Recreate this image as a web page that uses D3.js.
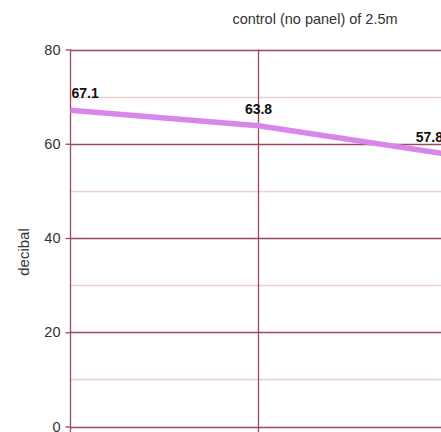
<!DOCTYPE html>
<html><head><meta charset="utf-8">
<script src="https://cdn.jsdelivr.net/npm/d3@7"></script>
<style>html,body{margin:0;padding:0;background:#fff;overflow:hidden}</style>
</head><body>
<svg id="chart" width="441" height="432"></svg>
<script>
const categories = ["A", "B", "C"];
const values = [67.1, 63.8, 57.8];
const yTicks = [0, 20, 40, 60, 80];
const yMinorTicks = [10, 30, 50, 70];
const title = "control (no panel) of 2.5m";
const yLabel = "decibal";

const svg = d3.select("#chart");
const W = 441, H = 432;
const x0 = 70.5, step = 188;
const x = d3.scalePoint().domain(categories).range([x0, x0 + step * (categories.length - 1)]);
const y = d3.scaleLinear().domain([0, 80]).range([426.5, 49.5]);

const major = "#9b4a5e", minor = "#ead0d8";
const font = "Liberation Sans, Arial, sans-serif";

// minor grid
svg.append("g").selectAll("line").data(yMinorTicks).join("line")
  .attr("x1", x0).attr("x2", W + 10)
  .attr("y1", d => Math.round(y(d)) + 0.5).attr("y2", d => Math.round(y(d)) + 0.5)
  .attr("stroke", minor).attr("stroke-width", 1.5);

// major grid
svg.append("g").selectAll("line").data(yTicks).join("line")
  .attr("x1", x0).attr("x2", W + 10)
  .attr("y1", d => Math.round(y(d)) + 0.5).attr("y2", d => Math.round(y(d)) + 0.5)
  .attr("stroke", major).attr("stroke-width", 1.3);

// vertical grid
svg.append("g").selectAll("line").data(categories).join("line")
  .attr("x1", d => x(d)).attr("x2", d => x(d))
  .attr("y1", y(80)).attr("y2", H + 5)
  .attr("stroke", major).attr("stroke-width", 1.3);

// y axis
const yAxis = d3.axisLeft(y).tickValues(yTicks).tickSize(5).tickPadding(5);
const ga = svg.append("g").attr("transform", `translate(${x0},0)`).call(yAxis);
ga.select(".domain").remove();
ga.selectAll(".tick line").attr("stroke", major).attr("stroke-width", 1.3);
ga.selectAll(".tick text").attr("fill", "#333").style("font-family", font).style("font-size", "14.5px");

// line
const line = d3.line().x((d, i) => x(categories[i])).y(d => y(d));
svg.append("path").datum(values).attr("d", line)
  .attr("fill", "none").attr("stroke", "#d986ea").attr("stroke-width", 5.5)
  .attr("stroke-linejoin", "round");

// data labels
const lbl = svg.append("g").selectAll("text").data(values).join("text")
  .attr("y", d => y(d) - 12)
  .attr("text-anchor", "middle")
  .style("font-family", font).style("font-size", "14px").style("font-weight", "bold")
  .attr("fill", "#111")
  .text(d => d.toFixed(1));
lbl.each(function(d, i) {
  const w = this.getComputedTextLength();
  let cx = x(categories[i]);
  cx = Math.max(cx, x0 + 1 + w / 2);
  cx = Math.min(cx, W + 2 - w / 2);
  d3.select(this).attr("x", cx);
});

// title
svg.append("text").attr("x", 315).attr("y", 24).attr("text-anchor", "middle")
  .style("font-family", font).style("font-size", "14.5px").attr("fill", "#333").text(title);

// y label
svg.append("text").attr("transform", `translate(28.5,${252}) rotate(-90)`)
  .attr("text-anchor", "middle")
  .style("font-family", font).style("font-size", "15px").attr("fill", "#333").text(yLabel);
</script>
</body></html>
